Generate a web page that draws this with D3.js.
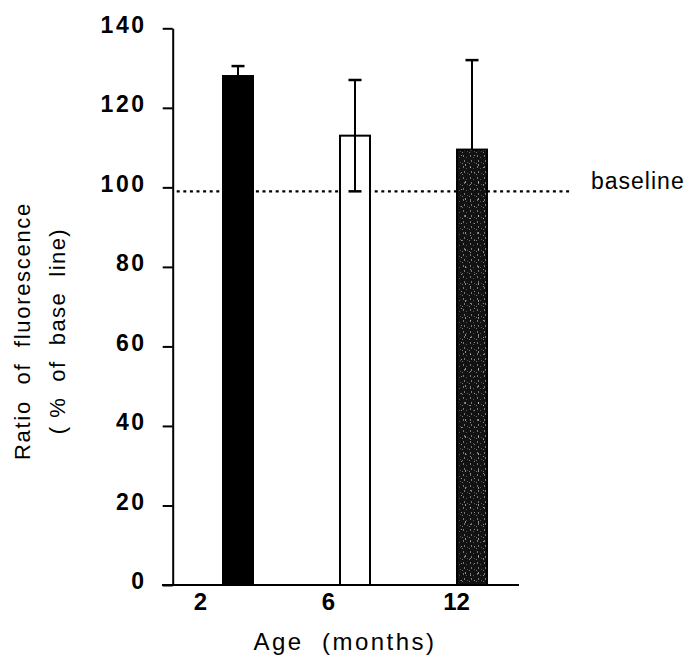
<!DOCTYPE html>
<html>
<head>
<meta charset="utf-8">
<script src="https://cdn.jsdelivr.net/npm/d3@7"></script>
<style>
  html, body { margin: 0; padding: 0; background: #fff; }
  svg { display: block; }
  text { font-family: "Liberation Sans", Arial, sans-serif; fill: #000; }
</style>
</head>
<body>
<svg id="chart" width="688" height="659"></svg>
<script>
// Age groups (months)
const categories = ["2", "6", "12"];
// Mean ratio of fluorescence, % of base line
const means = [128, 113, 109.5];
// Error (SD) for each group
const errors = [2.5, 14, 22.5];
// Reference level drawn as a dotted line
const baselineValue = 99;
// Y axis ticks
const yTicks = [0, 20, 40, 60, 80, 100, 120, 140];

const svg = d3.select("#chart");

// pattern: dark fill with light speckles for the 12-month bar
const defs = svg.append("defs");
const pat = defs.append("pattern")
  .attr("id", "speckle")
  .attr("patternUnits", "userSpaceOnUse")
  .attr("width", 7).attr("height", 11);
pat.append("rect").attr("width", 7).attr("height", 11).attr("fill", "#121212");
[[1, 1, 1, 2], [4, 3, 1, 1], [2, 6, 1, 2], [5, 8, 1, 1], [0, 9, 1, 1]].forEach(([x, y, w, h], i) => {
  pat.append("rect").attr("x", x).attr("y", y).attr("width", w).attr("height", h)
    .attr("fill", i % 2 ? "#8a8a8a" : "#c8c8c8").attr("opacity", 0.55);
});
const pat2 = defs.append("pattern")
  .attr("id", "speckle2")
  .attr("patternUnits", "userSpaceOnUse")
  .attr("width", 13).attr("height", 17);
[[6, 2, 1, 1], [10, 11, 1, 2], [2, 14, 1, 1]].forEach(([x, y, w, h]) => {
  pat2.append("rect").attr("x", x).attr("y", y).attr("width", w).attr("height", h)
    .attr("fill", "#e8e8e8").attr("opacity", 0.6);
});

const barFills = ["#000", "#fff", "url(#speckle)"];

const y = d3.scaleLinear().domain([0, 140]).range([585, 28.3]);
const xBar = d3.scalePoint().domain(categories).range([238, 472]);
const xLabel = d3.scalePoint().domain(categories).range([200, 456]);
const barW = 30;
const axisX = 172.7;

// Y axis
const yAxis = svg.append("g")
  .attr("transform", `translate(${axisX},0)`)
  .call(d3.axisLeft(y).tickValues(yTicks).tickSize(10).tickSizeOuter(0).tickPadding(16));
yAxis.selectAll("path, line").attr("stroke", "#000").attr("stroke-width", 2);
yAxis.selectAll("text")
  .attr("dy", "0.17em")
  .style("font-size", "23px")
  .style("font-weight", "bold")
  .style("letter-spacing", "2.6px")
  .style("font-family", "'Liberation Sans', Arial, sans-serif");

// X axis line
svg.append("line")
  .attr("x1", 162).attr("x2", 519)
  .attr("y1", y(0)).attr("y2", y(0))
  .attr("stroke", "#000").attr("stroke-width", 2.2);

// X tick labels
const xAxis = svg.append("g")
  .attr("transform", `translate(0,${y(0)})`)
  .call(d3.axisBottom(xLabel).tickSize(0).tickPadding(8));
xAxis.select(".domain").remove();
xAxis.selectAll("text")
  .attr("dy", "0.72em")
  .style("font-size", "24px")
  .style("font-weight", "bold")
  .style("font-family", "'Liberation Sans', Arial, sans-serif");

// dotted base line
svg.append("line")
  .attr("x1", axisX + 4).attr("x2", 572)
  .attr("y1", y(baselineValue)).attr("y2", y(baselineValue))
  .attr("stroke", "#000").attr("stroke-width", 2.2)
  .attr("stroke-dasharray", "3,3.6");

svg.append("text")
  .attr("x", 591).attr("y", y(baselineValue) - 2)
  .style("font-size", "23px")
  .style("letter-spacing", "1px")
  .text("baseline");

// Bars
const bars = svg.append("g");
bars.selectAll("rect.bar")
  .data(means)
  .join("rect")
  .attr("class", "bar")
  .attr("x", (d, i) => xBar(categories[i]) - barW / 2)
  .attr("y", d => y(d))
  .attr("width", barW)
  .attr("height", d => y(0) - y(d))
  .attr("fill", (d, i) => barFills[i])
  .attr("stroke", "#000")
  .attr("stroke-width", 2);

// extra speckle layer for the textured bar
bars.append("rect")
  .attr("x", xBar(categories[2]) - barW / 2 + 1)
  .attr("y", y(means[2]) + 1)
  .attr("width", barW - 2)
  .attr("height", y(0) - y(means[2]) - 2)
  .attr("fill", "url(#speckle2)");

// Error bars: upper whisker always; lower whisker only shows inside the open bar
const err = svg.append("g").attr("stroke", "#000");
means.forEach((m, i) => {
  const cx = xBar(categories[i]);
  const low = barFills[i] === "#fff" ? m - errors[i] : m;
  err.append("line")
    .attr("x1", cx).attr("x2", cx)
    .attr("y1", y(low)).attr("y2", y(m + errors[i]))
    .attr("stroke-width", 2);
  const caps = barFills[i] === "#fff" ? [m + errors[i], m - errors[i]] : [m + errors[i]];
  caps.forEach(v => {
    err.append("line")
      .attr("x1", cx - 6.5).attr("x2", cx + 6.5)
      .attr("y1", y(v)).attr("y2", y(v))
      .attr("stroke-width", 2.5);
  });
});

// Axis titles
svg.append("text")
  .attr("x", 345).attr("y", 650)
  .attr("text-anchor", "middle")
  .style("font-size", "24px")
  .style("letter-spacing", "2.5px")
  .style("white-space", "pre")
  .text("Age  (months)");

const yTitle = svg.append("g").attr("transform", "translate(0,331) rotate(-90)");
yTitle.append("text")
  .attr("x", 0).attr("y", 30)
  .attr("text-anchor", "middle")
  .style("font-size", "22px")
  .style("letter-spacing", "1.7px")
  .style("white-space", "pre")
  .text("Ratio  of  fluorescence");
yTitle.append("text")
  .attr("x", 0).attr("y", 65)
  .attr("text-anchor", "middle")
  .style("font-size", "22px")
  .style("letter-spacing", "1.45px")
  .style("white-space", "pre")
  .text("( %  of  base  line)");
</script>
</body>
</html>
